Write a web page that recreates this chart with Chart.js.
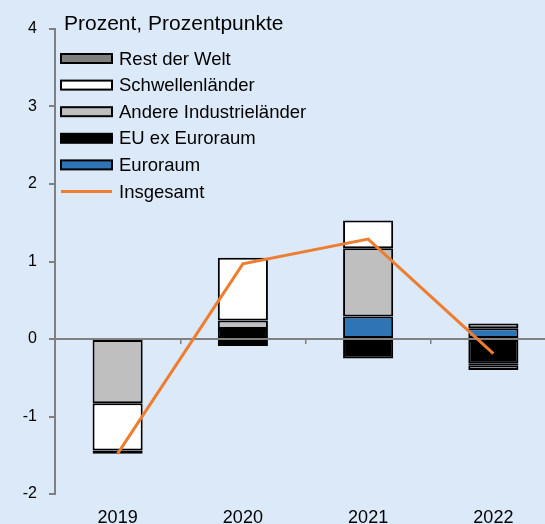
<!DOCTYPE html>
<html>
<head>
<meta charset="utf-8">
<script src="https://cdn.jsdelivr.net/npm/chart.js@4/dist/chart.umd.min.js"></script>
<style>
    html, body { margin: 0; padding: 0; overflow: hidden; background: #dce9f8; }
</style>
</head>
<body>
<canvas id="chart" width="556" height="524"></canvas>
<script>
var years = ['2019', '2020', '2021', '2022'];
var euroraum = [0, -0.04, 0.29, 0.14];
var euEx = [0, 0.13, -0.25, -0.32];
var andere = [-0.83, 0.11, 0.88, 0.06];
var schwellen = [-0.61, 0.81, 0.36, -0.02];
var rest = [-0.04, -0.05, 0, -0.06];
var insgesamt = [-1.48, 0.97, 1.29, -0.19];
var yTicks = [-2, -1, 0, 1, 2, 3, 4];

var fontFamily = '"Liberation Sans", Arial, sans-serif';

// legend + title drawn by hand inside the plot, like the original
var boxLegend = {
    id: 'boxLegend',
    afterDraw: function (chart) {
        var ctx = chart.ctx;
        ctx.save();
        ctx.textBaseline = 'middle';
        ctx.fillStyle = '#000';
        ctx.font = '21px ' + fontFamily;
        ctx.fillText('Prozent, Prozentpunkte', 64, 24);

        ctx.font = '18.5px ' + fontFamily;
        var sets = chart.data.datasets.slice().reverse();
        sets.forEach(function (ds, i) {
            var y = 58.5 + i * 26.6;
            if (ds.type === 'line') {
                ctx.strokeStyle = ds.borderColor;
                ctx.lineWidth = 3;
                ctx.beginPath();
                ctx.moveTo(61, y);
                ctx.lineTo(112, y);
                ctx.stroke();
            } else {
                ctx.fillStyle = ds.backgroundColor;
                ctx.fillRect(61, y - 4.5, 51, 9);
                ctx.strokeStyle = '#000';
                ctx.lineWidth = 2;
                ctx.strokeRect(61, y - 4.5, 51, 9);
            }
            ctx.fillStyle = '#000';
            ctx.fillText(ds.label, 119, y + 1);
        });
        ctx.restore();
    }
};

function barSet(label, data, fill) {
    return {
        type: 'bar',
        label: label,
        data: data,
        backgroundColor: fill,
        borderColor: '#000',
        borderWidth: 2,
        borderSkipped: false,
        barPercentage: 0.4,
        categoryPercentage: 1
    };
}

new Chart(document.getElementById('chart'), {
    type: 'bar',
    data: {
        labels: years,
        datasets: [
            {
                type: 'line',
                label: 'Insgesamt',
                data: insgesamt,
                borderColor: '#ed7d31',
                borderWidth: 3,
                pointRadius: 0,
                tension: 0,
                fill: false
            },
            barSet('Euroraum', euroraum, '#2e75b6'),
            barSet('EU ex Euroraum', euEx, '#000000'),
            barSet('Andere Industrieländer', andere, '#bfbfbf'),
            barSet('Schwellenländer', schwellen, '#ffffff'),
            barSet('Rest der Welt', rest, '#7f7f7f')
        ]
    },
    options: {
        responsive: false,
        animation: false,
        layout: { padding: { top: 29, left: 0, right: 0, bottom: 0 } },
        plugins: {
            legend: { display: false },
            tooltip: { enabled: false }
        },
        scales: {
            x: {
                stacked: true,
                offset: true,
                grid: { display: false },
                border: { display: false },
                ticks: {
                    color: '#000',
                    padding: 5,
                    font: { family: fontFamily, size: 18 }
                },
                afterFit: function (scale) { scale.height = 30; }
            },
            x2: {
                type: 'category',
                position: { y: 0 },
                offset: true,
                grid: {
                    offset: true,
                    drawOnChartArea: false,
                    color: '#808080',
                    lineWidth: 1.5,
                    tickLength: 5
                },
                border: { display: false },
                ticks: { display: false }
            },
            y: {
                stacked: true,
                min: -2,
                max: 4,
                afterBuildTicks: function (scale) {
                    scale.ticks = yTicks.map(function (v) { return { value: v }; });
                },
                grid: {
                    color: function (c) { return c.tick && c.tick.value === 0 ? '#808080' : 'rgba(0,0,0,0)'; },
                    lineWidth: 2,
                    tickColor: '#808080',
                    tickLength: 6
                },
                border: { display: true, color: '#808080', width: 2 },
                ticks: {
                    color: '#000',
                    padding: 12,
                    font: { family: fontFamily, size: 16 }
                },
                afterFit: function (scale) { scale.width = 55; }
            }
        }
    },
    plugins: [boxLegend]
});
</script>
</body>
</html>
